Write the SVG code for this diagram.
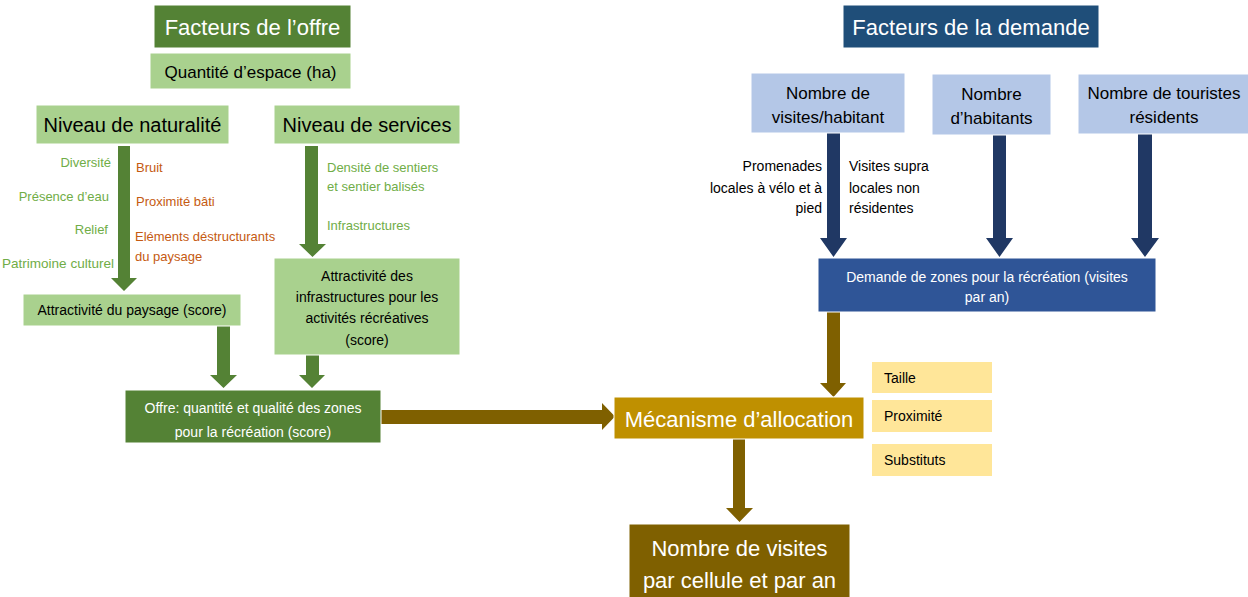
<svg xmlns="http://www.w3.org/2000/svg" width="1248" height="597" viewBox="0 0 1248 597">
<style>
text{font-family:"Liberation Sans",Arial,sans-serif}
.dg{fill:#548235}
.lg{fill:#A9D18E}
.lb{fill:#B4C7E7}
.db{fill:#1F4E79}
.mb{fill:#2F5597}
.gold{fill:#BF9000}
.brn{fill:#7F6000}
.yel{fill:#FFE699}
.w{fill:#fff}
.k{fill:#000}
.c{text-anchor:middle}
.e{text-anchor:end}
.gt{fill:#70AD47;font-size:13px}
.ot{fill:#C55A11;font-size:13px}
.box{stroke:#fff;stroke-width:1}
</style>
<rect width="1248" height="597" fill="#fff"/>

<g id="connectors">
  <polygon class="dg" points="118,146 130,146 130,278 137,278 124,291 111,278 118,278"/>
  <polygon class="dg" points="305,146 318,146 318,244 326,244 312.5,257 299,244 305,244"/>
  <polygon class="dg" points="217,326 230,326 230,375 237,375 223.5,388 210,375 217,375"/>
  <polygon class="dg" points="306,355 319,355 319,375 325,375 312,388 299,375 306,375"/>
  <polygon class="brn" points="381,410 602,410 602,403 615,416.5 602,430 602,424 381,424"/>
  <polygon class="brn" points="827,312 840,312 840,383 846,383 833.5,397 820,383 827,383"/>
  <polygon class="brn" points="733,439 745,439 745,508 753,508 739.5,522 726,508 733,508"/>
  <polygon fill="#203864" points="827,133 840,133 840,238 847,238 833.5,257 820,238 827,238"/>
  <polygon fill="#203864" points="993,135 1006,135 1006,238 1013,238 999.5,257 986,238 993,238"/>
  <polygon fill="#203864" points="1138,134 1152,134 1152,238 1159,238 1145,257 1131,238 1138,238"/>
</g>

<g id="facteurs-offre">
  <rect class="dg box" x="154" y="5" width="197" height="43"/>
  <text class="w c" x="252.5" y="35" font-size="22">Facteurs de l’offre</text>
</g>
<g id="quantite-espace">
  <rect class="lg box" x="150" y="53" width="201" height="36"/>
  <text class="k c" x="250.5" y="78" font-size="17">Quantité d’espace (ha)</text>
</g>
<g id="niveau-naturalite">
  <rect class="lg box" x="36" y="105" width="193" height="39"/>
  <text class="k c" x="132.5" y="132" font-size="20">Niveau de naturalité</text>
</g>
<g id="niveau-services">
  <rect class="lg box" x="274" y="105" width="186" height="39"/>
  <text class="k c" x="367" y="132" font-size="20">Niveau de services</text>
</g>

<g id="labels-naturalite">
  <text class="gt e" x="111" y="167">Diversité</text>
  <text class="gt e" x="109" y="201">Présence d’eau</text>
  <text class="gt e" x="108" y="234">Relief</text>
  <text class="gt" x="2" y="268" textLength="112" lengthAdjust="spacingAndGlyphs">Patrimoine culturel</text>
  <text class="ot" x="136" y="172">Bruit</text>
  <text class="ot" x="136" y="206">Proximité bâti</text>
  <text class="ot" x="135" y="241">Eléments déstructurants</text>
  <text class="ot" x="135" y="261">du paysage</text>
</g>
<g id="labels-services">
  <text class="gt" x="327" y="172">Densité de sentiers</text>
  <text class="gt" x="327" y="191">et sentier balisés</text>
  <text class="gt" x="327" y="230">Infrastructures</text>
</g>

<g id="attractivite-paysage">
  <rect class="lg box" x="23" y="294" width="218" height="32"/>
  <text class="k c" x="132" y="315" font-size="14">Attractivité du paysage (score)</text>
</g>
<g id="attractivite-infrastructures">
  <rect class="lg box" x="274" y="258" width="186" height="97"/>
  <text class="k c" x="367" y="281" font-size="14">Attractivité des</text>
  <text class="k c" x="367" y="302" font-size="14">infrastructures pour les</text>
  <text class="k c" x="367" y="323" font-size="14">activités récréatives</text>
  <text class="k c" x="367" y="345" font-size="14">(score)</text>
</g>
<g id="offre">
  <rect class="dg box" x="125" y="390" width="256" height="53"/>
  <text class="w c" x="253" y="413" font-size="14">Offre: quantité et qualité des zones</text>
  <text class="w c" x="253" y="437" font-size="14">pour la récréation (score)</text>
</g>

<g id="facteurs-demande">
  <rect class="db box" x="843" y="5" width="256" height="43"/>
  <text class="w c" x="971" y="35" font-size="22">Facteurs de la demande</text>
</g>
<g id="visites-habitant">
  <rect class="lb box" x="751" y="73" width="154" height="60"/>
  <text class="k c" x="828" y="99" font-size="17">Nombre de</text>
  <text class="k c" x="828" y="123" font-size="17">visites/habitant</text>
</g>
<g id="nombre-habitants">
  <rect class="lb box" x="932" y="74" width="119" height="61"/>
  <text class="k c" x="991.5" y="100" font-size="17">Nombre</text>
  <text class="k c" x="991.5" y="124" font-size="17">d’habitants</text>
</g>
<g id="touristes">
  <rect class="lb box" x="1078" y="74" width="172" height="60"/>
  <text class="k c" x="1164" y="99" font-size="17">Nombre de touristes</text>
  <text class="k c" x="1164" y="123" font-size="17">résidents</text>
</g>
<g id="labels-demande">
  <text class="k e" x="822" y="171" font-size="14">Promenades</text>
  <text class="k e" x="822" y="193" font-size="14">locales à vélo et à</text>
  <text class="k e" x="822" y="213" font-size="14">pied</text>
  <text class="k" x="849" y="171" font-size="14">Visites supra</text>
  <text class="k" x="849" y="193" font-size="14">locales non</text>
  <text class="k" x="849" y="213" font-size="14">résidentes</text>
</g>
<g id="demande">
  <rect class="mb box" x="818" y="258" width="338" height="54"/>
  <text class="w c" x="987" y="282" font-size="14">Demande de zones pour la récréation (visites</text>
  <text class="w c" x="987" y="302" font-size="14">par an)</text>
</g>

<g id="mecanisme">
  <rect class="gold box" x="614" y="397" width="250" height="42"/>
  <text class="w c" x="739" y="427" font-size="22">Mécanisme d’allocation</text>
</g>
<g id="taille">
  <rect class="yel" x="872" y="362" width="120" height="31"/>
  <text class="k" x="884" y="383" font-size="14">Taille</text>
</g>
<g id="proximite">
  <rect class="yel" x="872" y="400" width="120" height="32"/>
  <text class="k" x="884" y="421" font-size="14">Proximité</text>
</g>
<g id="substituts">
  <rect class="yel" x="872" y="444" width="120" height="32"/>
  <text class="k" x="884" y="465" font-size="14">Substituts</text>
</g>
<g id="nombre-visites">
  <rect class="brn box" x="629" y="524" width="221" height="80"/>
  <text class="w c" x="739.5" y="556" font-size="22">Nombre de visites</text>
  <text class="w c" x="739.5" y="588" font-size="22">par cellule et par an</text>
</g>
</svg>
